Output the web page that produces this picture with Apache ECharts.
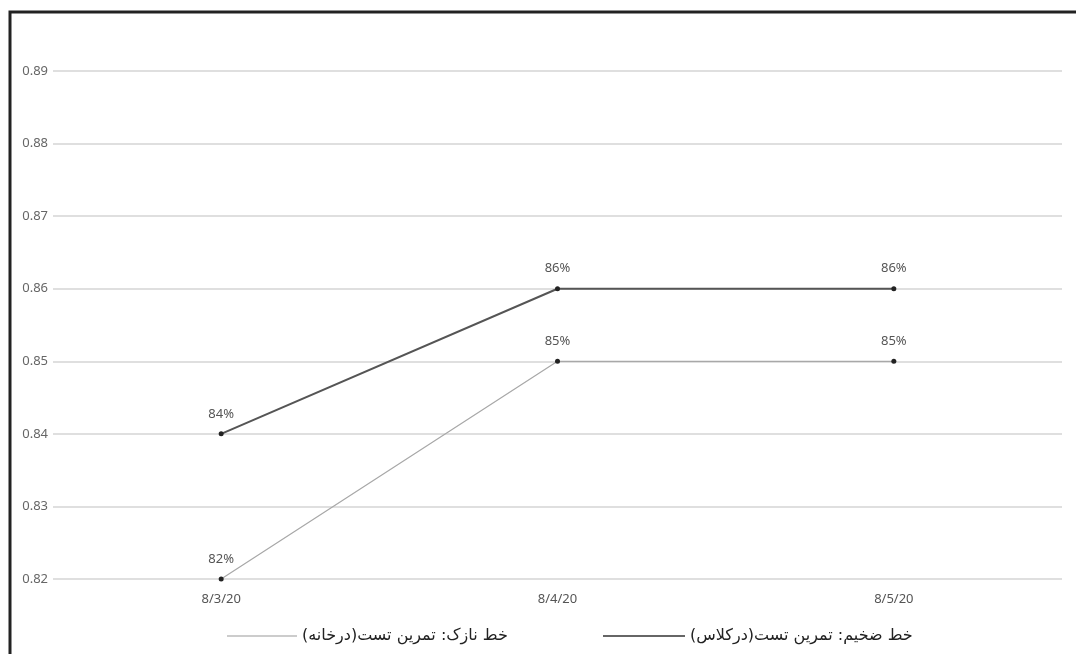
<!DOCTYPE html>
<html>
<head>
<meta charset="utf-8">
<script src="https://cdn.jsdelivr.net/npm/echarts@6/dist/echarts.min.js"></script>
<style>
  html, body { margin: 0; padding: 0; background: #fff; }
  #main { width: 1076px; height: 654px; }
</style>
</head>
<body>
<div id="main"></div>
<script>
var categories = ['8/3/20', '8/4/20', '8/5/20'];
var classValues = [0.84, 0.86, 0.86];
var homeValues = [0.82, 0.85, 0.85];
var yTicks = { min: 0.82, max: 0.89, step: 0.01 };

var RLM = '\u200F';
var className = RLM + 'خط ضخیم: تمرین تست(درکلاس)' + RLM;
var homeName = RLM + 'خط نازک: تمرین تست(درخانه)' + RLM;

var chart = echarts.init(document.getElementById('main'));

var pctLabel = {
	show: true,
	position: 'top',
	distance: 11,
	color: '#555',
	fontSize: 13,
	fontFamily: 'Noto Sans',
	formatter: function (p) { return Math.round(p.value * 100) + '%'; }
};

var option = {
	backgroundColor: '#fff',
	animation: false,
	grid: { left: 53, right: 14, top: 71, bottom: 75 },
	graphic: [{
		type: 'rect',
		shape: { x: 10, y: 12, width: 1100, height: 700 },
		style: { fill: 'none', stroke: '#222', lineWidth: 3 },
		silent: true
	}],
	legend: [{
		left: 222,
		top: 623,
		icon: 'rect',
		itemWidth: 70,
		itemHeight: 1,
		textStyle: { fontSize: 16, color: '#222', fontFamily: 'DejaVu Sans' },
		data: [{ name: homeName, itemStyle: { color: '#999' } }]
	}, {
		left: 598,
		top: 623,
		icon: 'rect',
		itemWidth: 82,
		itemHeight: 1.5,
		textStyle: { fontSize: 16, color: '#222', fontFamily: 'DejaVu Sans' },
		data: [{ name: className, itemStyle: { color: '#333' } }]
	}],
	xAxis: {
		type: 'category',
		data: categories,
		boundaryGap: true,
		axisLine: { show: false },
		axisTick: { show: false },
		axisLabel: { color: '#555', fontSize: 13, fontFamily: 'Noto Sans', margin: 14 }
	},
	yAxis: {
		type: 'value',
		min: yTicks.min,
		max: yTicks.max,
		interval: yTicks.step,
		axisLine: { show: false },
		axisTick: { show: false },
		axisLabel: { color: '#666', fontSize: 13, fontFamily: 'Noto Sans', margin: 5 },
		splitLine: { lineStyle: { color: '#d4d4d4', width: 1.5 } }
	},
	series: [{
		name: className,
		type: 'line',
		data: classValues,
		symbol: 'circle',
		symbolSize: 5,
		itemStyle: { color: '#222' },
		lineStyle: { color: '#555', width: 2 },
		label: pctLabel,
		z: 3
	}, {
		name: homeName,
		type: 'line',
		data: homeValues,
		symbol: 'circle',
		symbolSize: 5,
		itemStyle: { color: '#222' },
		lineStyle: { color: '#a8a8a8', width: 1.2 },
		label: pctLabel,
		z: 2
	}]
};

chart.setOption(option);
</script>
</body>
</html>
